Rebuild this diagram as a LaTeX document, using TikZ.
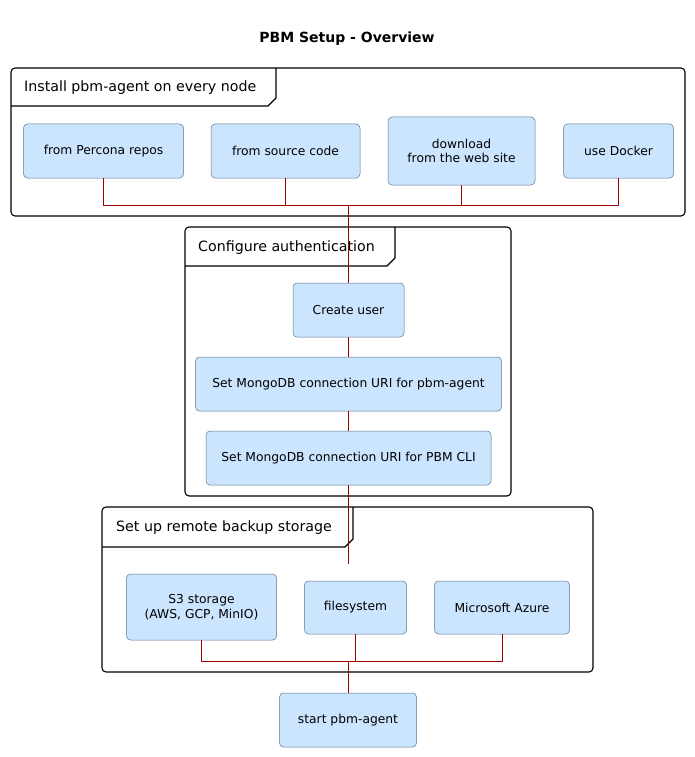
\documentclass[tikz,border=0pt]{standalone}
\usepackage{fontspec}
\setmainfont{DejaVu Sans}
\definecolor{nodefill}{HTML}{CCE5FF}
\definecolor{nodeborder}{HTML}{5B7590}
\definecolor{linkred}{HTML}{A00000}
\begin{document}
\begin{tikzpicture}[x=1pt,y=-1pt,
  stepbox/.style={draw=nodeborder, fill=nodefill, line width=0.5pt, rounded corners=4pt,
     align=center, font=\fontsize{12.3}{14.5}\selectfont, inner sep=0pt},
  framebox/.style={draw=black, line width=1.1pt, rounded corners=4pt},
  tabline/.style={draw=black, line width=1.1pt},
  conn/.style={draw=linkred, line width=1.2pt},
  framelabel/.style={anchor=west, font=\fontsize{14.2}{16}\selectfont, inner sep=0pt}]
\useasboundingbox (0,0) rectangle (695,757);
\fill[white] (0,0) rectangle (695,757);

\node[font=\bfseries\fontsize{14}{16}\selectfont] (title) at (347,39) {PBM Setup - Overview};

% Frame 1
\draw[framebox] (11,68) rectangle (685,216);
\draw[tabline] (11,106) -- (268,106) -- (276,98) -- (276,68);
\node[framelabel] (f1) at (24,88) {Install pbm-agent on every node};
\node[stepbox, minimum width=160pt, minimum height=54pt] (pr) at (103.5,151) {from Percona repos};
\node[stepbox, minimum width=149pt, minimum height=54pt] (sc) at (285.5,151) {from source code};
\node[stepbox, minimum width=147pt, minimum height=68pt] (dl) at (461.5,151) {download\\from the web site};
\node[stepbox, minimum width=110pt, minimum height=54pt] (dk) at (618.5,151) {use Docker};

% Frame 2
\draw[framebox] (185,227) rectangle (511,496);
\draw[tabline] (185,266) -- (387,266) -- (395,258) -- (395,227);
\node[framelabel] (f2) at (198,248) {Configure authentication};
\node[stepbox, minimum width=111pt, minimum height=54pt] (cu) at (348.5,310) {Create user};
\node[stepbox, minimum width=306pt, minimum height=54pt] (ua) at (348.5,384) {Set MongoDB connection URI for pbm-agent};
\node[stepbox, minimum width=285pt, minimum height=54pt] (uc) at (348.5,458) {Set MongoDB connection URI for PBM CLI};

% Frame 3
\draw[framebox] (102,507) rectangle (593,672);
\draw[tabline] (102,547) -- (345,547) -- (353,539) -- (353,507);
\node[framelabel] (f3) at (116,528) {Set up remote backup storage};
\node[stepbox, minimum width=150pt, minimum height=66pt] (s3) at (201.5,607) {S3 storage\\(AWS, GCP, MinIO)};
\node[stepbox, minimum width=102pt, minimum height=53pt] (fs) at (355.5,607.5) {filesystem};
\node[stepbox, minimum width=135pt, minimum height=53pt] (az) at (502,607.5) {Microsoft Azure};

\node[stepbox, minimum width=137pt, minimum height=54pt] (st) at (348,720) {start pbm-agent};

% Connectors
\coordinate (jt) at (348.5,205.5);
\coordinate (jb) at (348.5,661.5);
\coordinate (dang) at (348.5,564);
\draw[conn] (pr.south) |- (jt);
\draw[conn] (sc.south) |- (jt);
\draw[conn] (dl.south) |- (jt);
\draw[conn] (dk.south) |- (jt);
\draw[conn] (jt) -- (cu.north);
\draw[conn] (cu.south) -- (ua.north);
\draw[conn] (ua.south) -- (uc.north);
\draw[conn] (uc.south) -- (dang);
\draw[conn] (s3.south) |- (jb);
\draw[conn] (fs.south) |- (jb);
\draw[conn] (az.south -| 502.5,0) |- (jb);
\draw[conn] (jb) -- (st.north -| jb);
\end{tikzpicture}
\end{document}
